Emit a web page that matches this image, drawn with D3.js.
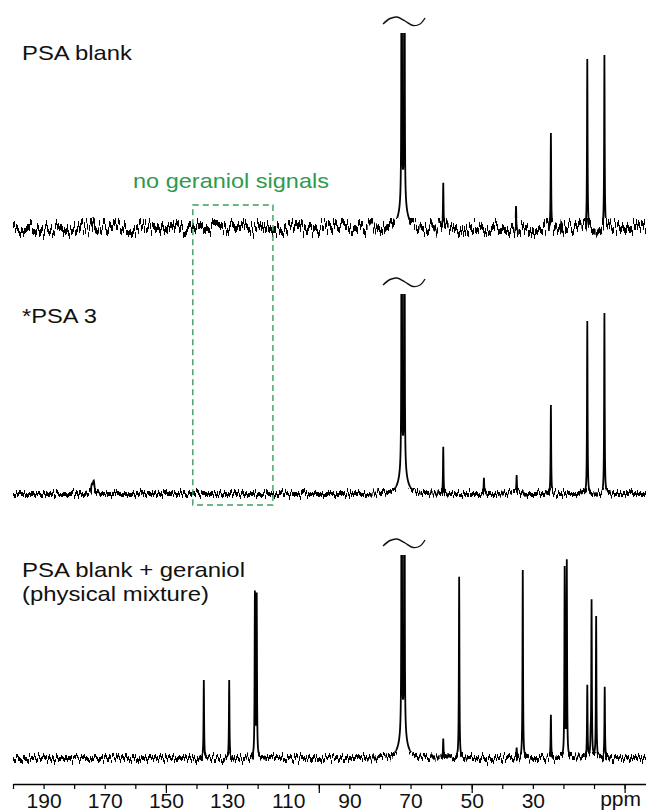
<!DOCTYPE html>
<html>
<head>
<meta charset="utf-8">
<script src="https://cdn.jsdelivr.net/npm/d3@7"></script>
<style>
  body { margin: 0; background: #fff; }
  text { font-family: "Liberation Sans", Arial, sans-serif; }
</style>
</head>
<body>
<div id="chart"></div>
<script>
// peaks: [ppm, intensity, half width (ppm)]
// the solvent doublet at ~72 ppm runs off the top in every trace
const peaksBlank = [
  [173.8, 10, 0.4],
  [72.9, 1000, 0.05], [72.0, 1000, 0.05], [72.45, 34, 1.1],
  [59.3, 45, 0.1], [35.5, 22, 0.1], [24.1, 95, 0.1],
  [20.6, 9, 0.1], [12.2, 169, 0.1], [6.6, 173, 0.1]
]
const peaksPSA3 = [
  [174.2, 8, 0.3], [173.6, 12, 0.3],
  [72.9, 1000, 0.05], [72.0, 1000, 0.05], [72.45, 34, 1.1],
  [59.3, 47, 0.1], [46.0, 16, 0.1], [36.5, 4, 1.2], [35.3, 17, 0.1],
  [24.1, 89, 0.1], [12.2, 173, 0.1], [6.6, 181, 0.1]
]
const peaksMixture = [
  [137.6, 78, 0.1], [129.3, 78, 0.1], [120.9, 163, 0.1], [120.3, 161, 0.1],
  [72.9, 1000, 0.05], [72.0, 1000, 0.05], [72.45, 34, 1.1],
  [59.3, 19, 0.1], [54.1, 181, 0.1], [35.3, 10, 0.1], [33.3, 188, 0.1],
  [24.1, 43, 0.1], [19.6, 188, 0.1], [18.9, 195, 0.1], [12.2, 72, 0.1],
  [11.1, 16, 0.1], [10.8, 156, 0.1], [9.3, 141, 0.1], [6.5, 71, 0.1]
]
const spectrumNames = [["PSA blank"], ["*PSA 3"], ["PSA blank + geraniol", "(physical mixture)"]]
const minorTicks = [200, 190, 180, 170, 160, 150, 140, 130, 120, 110, 100, 90, 80, 70, 60, 50, 40, 30, 20, 10, 0]
const majorTicks = [150, 100, 50, 0]
const tickLabels = [190, 170, 150, 130, 110, 90, 70, 50, 30]
const boxPpm = [141.2, 115.0]
const clippedPeak = 72.45

const width = 646
const height = 812

const svg = d3.select("#chart")
    .append("svg")
    .attr("width", width)
    .attr("height", height)

const defs = svg.append("defs")

const x = d3.scaleLinear()
    .domain([200, -7])
    .range([13, 646])

// layout of the three stacked traces
const panels = [
    {peaks: peaksBlank,   name: spectrumNames[0], base: 228, top: 33,  noise: 30, spread: 1.6, band: 10, label: 60},
    {peaks: peaksPSA3,    name: spectrumNames[1], base: 494, top: 294, noise: 16, spread: 1.0, band: 6,  label: 323},
    {peaks: peaksMixture, name: spectrumNames[2], base: 758, top: 555, noise: 17, spread: 1.0, band: 6,  label: 577}
]
const labelWidths = [[110], [75], [223, 187]]

const grid = d3.range(200, -7.001, -0.05)

const spectrum = (peaks, ppm) => d3.sum(peaks, p => p[1] * p[2] * p[2] / ((ppm - p[0]) ** 2 + p[2] * p[2]))

panels.forEach((panel, i) => {
    const y = d3.scaleLinear()
        .domain([0, 200])
        .range([panel.base, panel.base - 200])

    // noise texture, only used for the baseline band
    const filter = defs.append("filter")
        .attr("id", `noise${i}`)
        .attr("filterUnits", "userSpaceOnUse")
        .attr("x", 0).attr("y", 0)
        .attr("width", width).attr("height", height)
    filter.append("feTurbulence")
        .attr("type", "fractalNoise")
        .attr("baseFrequency", "0.55 0.02")
        .attr("numOctaves", 2)
        .attr("seed", i + 2)
        .attr("result", "turb")
    filter.append("feColorMatrix")
        .attr("in", "turb")
        .attr("type", "matrix")
        .attr("values", "0 0 0 0 0.5  0 1 0 0 0  0 0 0 0 0  0 0 0 0 1")
        .attr("result", "shift")
    filter.append("feDisplacementMap")
        .attr("in", "SourceGraphic")
        .attr("in2", "shift")
        .attr("scale", panel.noise)
        .attr("xChannelSelector", "R")
        .attr("yChannelSelector", "G")
        .attr("result", "moved")
    filter.append("feMorphology")
        .attr("in", "moved")
        .attr("operator", "dilate")
        .attr("radius", `0.4 ${panel.spread}`)
        .attr("result", "thick")
    filter.append("feComponentTransfer")
        .attr("in", "thick")
        .append("feFuncA")
        .attr("type", "linear")
        .attr("slope", 2.4)

    const cut = panel.base - panel.band
    defs.append("clipPath")
        .attr("id", `peaks${i}`)
        .append("rect")
        .attr("x", 0).attr("y", panel.top)
        .attr("width", width).attr("height", cut - panel.top)
    defs.append("clipPath")
        .attr("id", `band${i}`)
        .append("rect")
        .attr("x", 0).attr("y", cut)
        .attr("width", width).attr("height", 50)

    const line = d3.line()
        .x(d => x(d))
        .y(d => y(spectrum(panel.peaks, d)))
    const d = line(grid)

    svg.append("g")
        .attr("clip-path", `url(#peaks${i})`)
        .append("path")
        .attr("d", d)
        .attr("fill", "none")
        .attr("stroke", "#000")
        .attr("stroke-width", 1.8)

    svg.append("g")
        .attr("clip-path", `url(#band${i})`)
        .append("path")
        .attr("d", d)
        .attr("fill", "none")
        .attr("stroke", "#000")
        .attr("stroke-width", 1.4)
        .attr("stroke-linejoin", "round")
        .attr("filter", `url(#noise${i})`)

    // break mark over the clipped solvent peak
    const cx = x(clippedPeak)
    const cy = panel.top - 12
    const wave = [[-20, 3], [-13, -2.5], [-6, -4], [2, 0], [10, 4.5], [17, 3], [22, -3]]
    svg.append("path")
        .attr("d", d3.line().curve(d3.curveCatmullRom)(wave.map(w => [cx + w[0], cy + w[1]])))
        .attr("fill", "none")
        .attr("stroke", "#111")
        .attr("stroke-width", 1.4)

    svg.append("text")
        .attr("x", 22)
        .attr("y", panel.label)
        .style("font-size", "21px")
        .attr("fill", "#111")
        .selectAll("tspan")
        .data(panel.name)
        .enter().append("tspan")
        .attr("x", 22)
        .attr("dy", (d, j) => j ? 24 : 0)
        .attr("textLength", (d, j) => labelWidths[i][j])
        .attr("lengthAdjust", "spacingAndGlyphs")
        .text(d => d)
})

// dashed region: no geraniol signals
svg.append("rect")
    .attr("x", x(boxPpm[0]))
    .attr("y", 205)
    .attr("width", x(boxPpm[1]) - x(boxPpm[0]))
    .attr("height", 300)
    .attr("fill", "none")
    .attr("stroke", "#3f9a63")
    .attr("stroke-width", 1.4)
    .attr("stroke-dasharray", "6,4")

svg.append("text")
    .attr("x", 133)
    .attr("y", 188)
    .style("font-size", "21px")
    .attr("fill", "#2e9a4e")
    .attr("textLength", 196)
    .attr("lengthAdjust", "spacingAndGlyphs")
    .text("no geraniol signals")

// ppm axis
const axisY = 784
svg.append("g")
    .attr("transform", `translate(0,${axisY})`)
    .call(d3.axisBottom(x)
        .tickValues(minorTicks)
        .tickSize(5)
        .tickSizeOuter(0)
        .tickPadding(4)
        .tickFormat(d => tickLabels.includes(d) ? d : ""))
    .call(g => g.select(".domain").attr("stroke-width", 1.4))
    .call(g => g.selectAll(".tick line").attr("stroke-width", 1.2))
    .call(g => g.selectAll("text")
        .style("font-size", "21px")
        .style("font-family", "'Liberation Sans', Arial, sans-serif")
        .attr("fill", "#111"))

svg.append("g")
    .attr("transform", `translate(0,${axisY})`)
    .call(d3.axisBottom(x)
        .tickValues(majorTicks)
        .tickSize(9)
        .tickSizeOuter(0)
        .tickFormat(""))
    .call(g => g.select(".domain").remove())
    .call(g => g.selectAll(".tick line").attr("stroke-width", 1.2))

svg.append("text")
    .attr("x", 641)
    .attr("y", 806)
    .attr("text-anchor", "end")
    .style("font-size", "21px")
    .attr("fill", "#111")
    .text("ppm")
</script>
</body>
</html>
